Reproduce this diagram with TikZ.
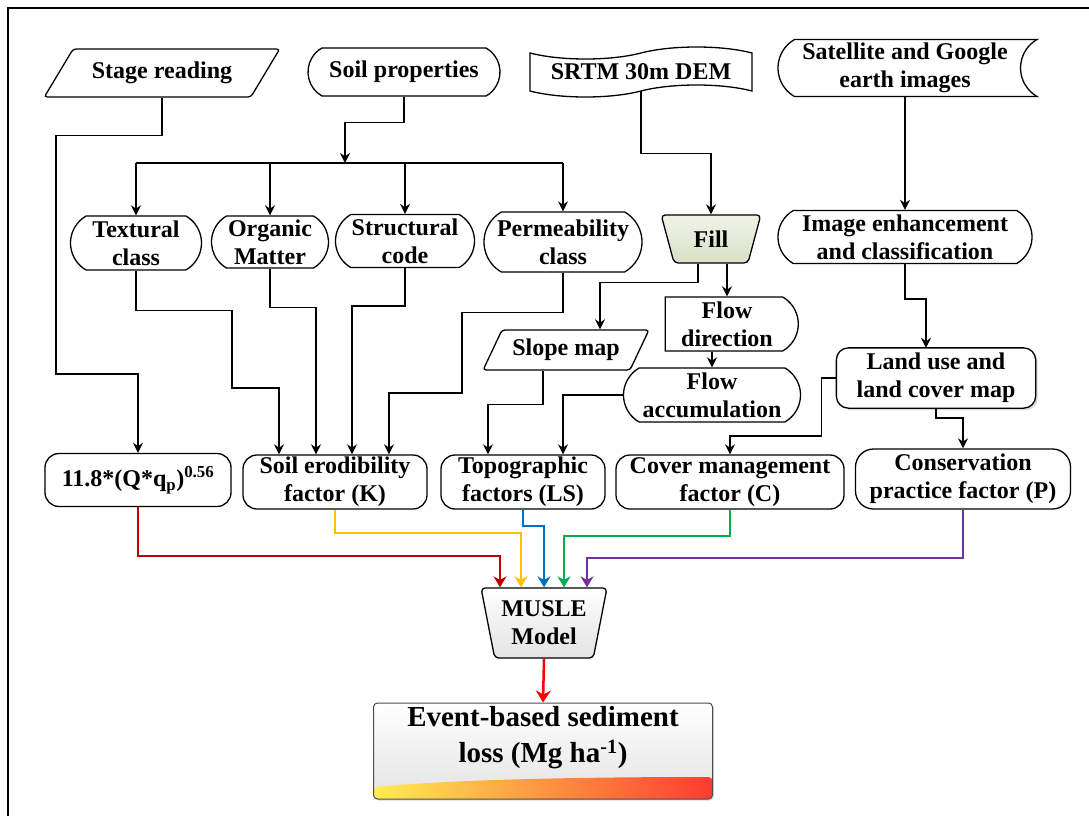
\documentclass[tikz,border=0pt]{standalone}
\usepackage{fontspec}
\setmainfont{Liberation Serif}
\usetikzlibrary{
		shapes.geometric,
		shapes.misc,
		shapes.symbols,
		arrows.meta,
		shadows,
		backgrounds
	}
\definecolor{lnred}{HTML}{C00000}
\definecolor{lnyellow}{HTML}{FFC000}
\definecolor{lnblue}{HTML}{0070C0}
\definecolor{lngreen}{HTML}{00B050}
\definecolor{lnpurple}{HTML}{7030A0}
\definecolor{fillgreen}{HTML}{D8E1C6}
\definecolor{bandyellow}{HTML}{FFEE50}
\definecolor{bandorange}{HTML}{FF9A18}
\definecolor{bandred}{HTML}{FF3B30}
\tikzset{
		>={Stealth[length=10pt,width=10pt]},
		box/.style={draw, line width=1.3pt, inner sep=0pt, align=center, font=\fontsize{24}{28}\selectfont\bfseries},
		databox/.style={box, trapezium, trapezium stretches=true, rounded corners=3pt},
		termbox/.style={box, rounded rectangle, rounded rectangle arc length=120},
		factorbox/.style={box, rectangle, rounded corners=14pt},
		funnel/.style={box, trapezium, shape border rotate=180, trapezium stretches=true, rounded corners=4pt},
		link/.style={line width=1.4pt, ->},
		musleline/.style={line width=2pt, -{Stealth[length=11pt,width=13pt]}}
	}
\begin{document}
\begin{tikzpicture}[x=1pt, y=-1pt]
		\useasboundingbox (0,0) rectangle (1089,816);
		\draw[line width=2.5pt] (8,830) -- (8,8) -- (1100,8);
		% inputs
		\node[databox, trapezium left angle=44, trapezium right angle=136, minimum width=236, minimum height=48] (stage) at (162,73) {Stage reading};
		\node[termbox, minimum width=192, minimum height=48] (soilp) at (404,72) {Soil properties};
		\node[box, tape, tape bend height=12pt, minimum width=222, minimum height=50] (srtm) at (641,72) {SRTM 30m DEM};
		\node[termbox, rounded rectangle east arc=concave, minimum width=259, minimum height=57] (sat) at (905,68) {Satellite and Google\\earth images};
		% soil and terrain processing
		\node[termbox, minimum width=131, minimum height=54] (tex) at (136,243) {Textural\\class};
		\node[termbox, minimum width=117, minimum height=52] (org) at (270,242) {Organic\\Matter};
		\node[termbox, minimum width=139, minimum height=53] (str) at (405,241) {Structural\\code};
		\node[termbox, minimum width=158, minimum height=60] (perm) at (563,242) {Permeability\\class};
		\node[funnel, trapezium left angle=70, trapezium right angle=70, minimum width=100, minimum height=48, top color=white!60!fillgreen, bottom color=fillgreen] (fill) at (711,239) {Fill};
		\node[termbox, minimum width=254, minimum height=53] (imgen) at (905,237) {Image enhancement\\and classification};
		\node[databox, trapezium left angle=54, trapezium right angle=126, minimum width=166, minimum height=40] (slope) at (566,350) {Slope map};
		\node[termbox, rounded rectangle west arc=none, minimum width=133, minimum height=54] (fdir) at (727,324) {Flow\\direction};
		\node[termbox, minimum width=177, minimum height=54] (facc) at (712,395) {Flow\\accumulation};
		\node[box, draw=none, minimum width=198, minimum height=59] (land) at (936,378) {Land use and\\land cover map};
		\begin{scope}[on background layer]
			\draw[line width=1.3pt, fill=white, rounded corners=12pt, drop shadow={shadow xshift=2pt, shadow yshift=-2pt, opacity=0.3}] (land.east) -- (land.north east) -- (land.north west) -- (land.south west) -- (land.south east) [sharp corners] -- cycle;
		\end{scope}
		% factors
		\node[factorbox, minimum width=186, minimum height=53] (form) at (138,480) {11.8*(Q*q\textsubscript{p})\textsuperscript{0.56}};
		\node[factorbox, minimum width=184, minimum height=54] (soilk) at (335,482) {Soil erodibility\\factor (K)};
		\node[factorbox, minimum width=164, minimum height=54] (topo) at (523,482) {Topographic\\factors (LS)};
		\node[factorbox, minimum width=228, minimum height=54] (cover) at (730,482) {Cover management\\factor (C)};
		\node[factorbox, rounded corners=18pt, minimum width=215, minimum height=60] (cons) at (963,479) {Conservation\\practice factor (P)};
		% model and result
		\node[funnel, trapezium left angle=75, trapezium right angle=75, minimum width=126, minimum height=70, top color=white, bottom color=gray!22] (musle) at (544,623) {MUSLE\\Model};
		\node[box, rectangle, rounded corners=4pt, draw=gray!60!black, line width=1pt, minimum width=339, minimum height=96, text depth=34pt, font=\fontsize{29}{36}\selectfont\bfseries, top color=white, bottom color=gray!22, drop shadow={shadow xshift=1.5pt, shadow yshift=-1.5pt, opacity=0.3},
			path picture={\shade[left color=bandyellow, middle color=bandorange, right color=bandred] (path picture bounding box.south west) -- ([yshift=12pt]path picture bounding box.south west) .. controls ([xshift=90pt,yshift=20pt]path picture bounding box.south west) and ([xshift=-120pt,yshift=22pt]path picture bounding box.south east) .. ([yshift=22pt]path picture bounding box.south east) -- (path picture bounding box.south east) -- cycle;}] (res) at (543,751) {Event-based sediment\\loss (Mg ha\textsuperscript{-1})};
		% connectors
		\coordinate (bus) at (345,163);
		\draw[link] (stage.center |- stage.south) -- ++(0,38) -| (56,374) -| (form.north);
		\draw[link] (soilp.south) -- ++(0,26) -| (bus);
		\draw[line width=1.4pt] (tex.north |- bus) -- (perm.north |- bus);
		\foreach \n in {tex, org, str, perm} \draw[link] (\n.north |- bus) -- (\n.north);
		\draw[link] (srtm.south) -- ++(0,62) -| (fill.north);
		\draw[link] (sat.south) -- (imgen.north);
		\draw[link] (imgen.south) -- ++(0,35) -| ([xshift=-10pt]land.north);
		\draw[link] (fill.south -| fdir.north) -- (fdir.north);
		\draw[link] ([xshift=-13pt]fill.south) -- ++(0,19) -| (slope.north -| 600,0);
		\draw[link] (fdir.south -| facc.north) -- (facc.north);
		\draw[link] (facc.west) -| ([xshift=40pt]topo.north);
		\draw[link] (slope.south -| 543,0) -- ++(0,34) -| ([xshift=-35pt]topo.north);
		\draw[link] (tex.south) -- ++(0,40) -| (232,388) -| ([xshift=-56pt]soilk.north);
		\draw[link] (org.south) -- ++(0,39) -| ([xshift=-19pt]soilk.north);
		\draw[link] (str.south) -- ++(0,38) -| ([xshift=17pt]soilk.north);
		\draw[link] (perm.south) -- ++(0,40) -| (462,393) -| ([xshift=54pt]soilk.north);
		\draw[link] (land.west) -- ++(-15,0) -- ++(0,58) -| (cover.north);
		\draw[link] (land.south) -- ++(0,10) -| (cons.north);
		% inputs of the model
		\draw[musleline, lnred] (form.south) -- ++(0,49) -| ([xshift=-44pt]musle.north);
		\draw[musleline, lnyellow] (soilk.south) -- ++(0,23) -| ([xshift=-23pt]musle.north);
		\draw[musleline, lnblue] (topo.south) -- ++(0,16) -| (musle.north);
		\draw[musleline, lngreen] (cover.south) -- ++(0,26) -| ([xshift=20pt]musle.north);
		\draw[musleline, lnpurple] (cons.south) -- ++(0,48) -| ([xshift=43pt]musle.north);
		\draw[line width=2.5pt, red, -{Stealth[length=12pt,width=15pt]}] (musle.south) -- (res.north);
	\end{tikzpicture}
\end{document}
